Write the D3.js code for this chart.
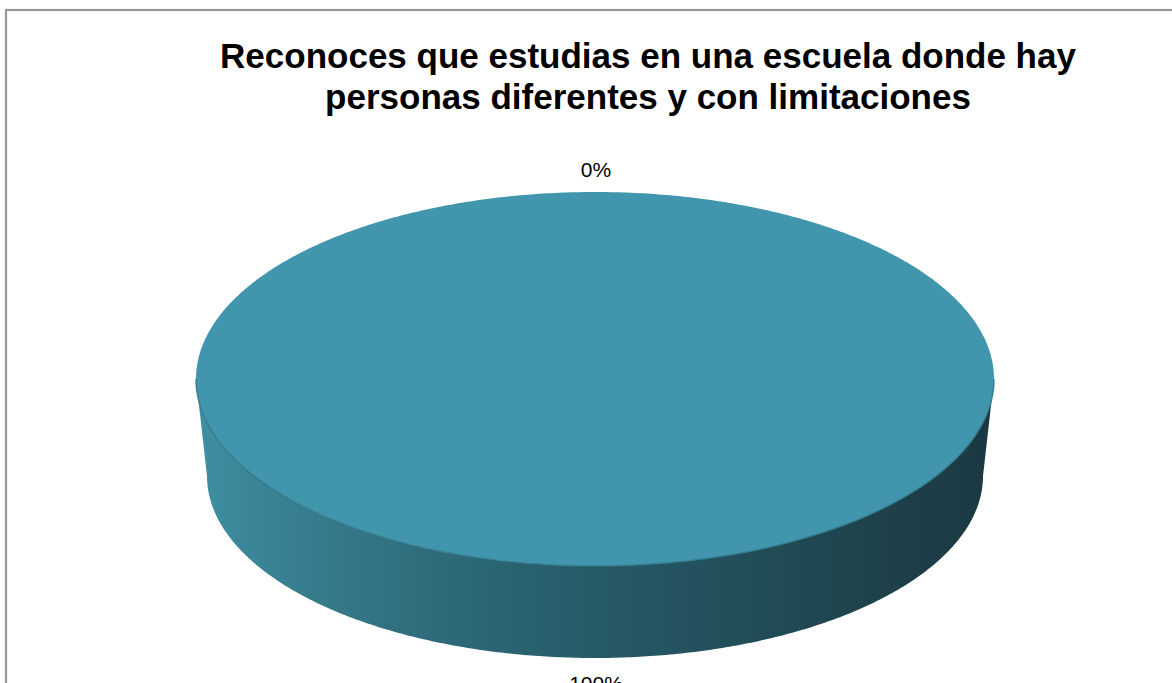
<!DOCTYPE html>
<html>
<head>
<meta charset="utf-8">
<script src="https://cdn.jsdelivr.net/npm/d3@7"></script>
<style>
  html, body { margin: 0; padding: 0; background: #fff; }
  svg { display: block; }
</style>
</head>
<body>
<svg id="chart" width="1172" height="683"></svg>
<script>
// Survey answers and their shares (percent)
const categories = ["Sí", "No"];
const values = [100, 0];
const labels = ["100%", "0%"];
const titleLines = [
  "Reconoces que estudias en una escuela donde hay",
  "personas diferentes y con limitaciones"
];

const svg = d3.select("#chart");

// Chart frame
svg.append("rect")
  .attr("x", 6).attr("y", 10)
  .attr("width", 1300).attr("height", 800)
  .attr("fill", "#fff")
  .attr("stroke", "#979797")
  .attr("stroke-width", 2.2);

// Title
const title = svg.append("text")
  .attr("text-anchor", "middle")
  .attr("font-family", "'Liberation Sans', Arial, sans-serif")
  .attr("font-weight", "bold")
  .attr("font-size", 35)
  .attr("fill", "#000");
titleLines.forEach((t, i) => {
  title.append("tspan").attr("x", 648).attr("y", 68 + i * 41).text(t);
});

// 3D pie geometry: top ellipse and a slightly smaller, lower base ellipse (perspective)
const topE = { cx: 595, cy: 379, rx: 399, ry: 187 };
const baseE = { cx: 595, cy: 476, rx: 388, ry: 182 };

// Angle a is measured clockwise from 12 o'clock, as d3.pie produces it
const pt = (e, a) => [e.cx + e.rx * Math.sin(a), e.cy - e.ry * Math.cos(a)];

function arcPoints(e, a0, a1) {
  const n = Math.max(2, Math.ceil(Math.abs(a1 - a0) / 0.01));
  return d3.range(n + 1).map(i => pt(e, a0 + (a1 - a0) * i / n));
}

const pie = d3.pie().sort(null).value(d => d)
  .startAngle(0).endAngle(2 * Math.PI);
const arcs = pie(values);

const topColors = ["#4196ad", "#c0504d"];

// Horizontal shading of the side wall
const defs = svg.append("defs");
const grad = defs.append("linearGradient")
  .attr("id", "wall")
  .attr("gradientUnits", "userSpaceOnUse")
  .attr("x1", topE.cx - topE.rx).attr("y1", 0)
  .attr("x2", topE.cx + topE.rx).attr("y2", 0);
[[0, "#3f8fa2"], [0.12, "#377f91"], [0.3, "#2e6b7a"], [0.5, "#265a67"],
 [0.7, "#214d58"], [0.85, "#1e424c"], [1, "#1b3842"]].forEach(([o, c]) =>
  grad.append("stop").attr("offset", o).attr("stop-color", c));

const line = d3.line();
const g = svg.append("g");

// Side walls: only the front half (angles between 90° and 270°) faces the viewer
arcs.forEach((d, i) => {
  const a0 = Math.max(d.startAngle, Math.PI / 2);
  const a1 = Math.min(d.endAngle, 3 * Math.PI / 2);
  if (a1 <= a0) return;
  const pts = arcPoints(topE, a0, a1).concat(arcPoints(baseE, a1, a0));
  g.append("path")
    .attr("d", line(pts) + "Z")
    .attr("fill", i === 0 ? "url(#wall)" : "#7a2f2d");
});

// Top faces
arcs.forEach((d, i) => {
  if (d.endAngle - d.startAngle <= 0) return;
  let pts = arcPoints(topE, d.startAngle, d.endAngle);
  if (d.endAngle - d.startAngle < 2 * Math.PI - 1e-9) pts = [[topE.cx, topE.cy]].concat(pts);
  g.append("path")
    .attr("d", line(pts) + "Z")
    .attr("fill", topColors[i]);
});

// Thin darker rim where the top face meets the wall
g.append("path")
  .attr("d", line(arcPoints(topE, Math.PI / 2, 3 * Math.PI / 2)))
  .attr("fill", "none")
  .attr("stroke", "#2f7587")
  .attr("stroke-width", 1.5)
  .attr("opacity", 0.8);

// Data labels placed just outside the slice at its mid angle
const off = 23;
arcs.forEach((d, i) => {
  const m = (d.startAngle + d.endAngle) / 2;
  const front = Math.cos(m) < 0;
  const e = front ? baseE : topE;
  const x = e.cx + (e.rx + off) * Math.sin(m);
  const y = e.cy - (e.ry + off) * Math.cos(m) + (front ? 2 : 0);
  svg.append("text")
    .attr("x", x + 1).attr("y", y)
    .attr("text-anchor", "middle")
    .attr("dominant-baseline", "central")
    .attr("font-family", "'Liberation Sans', Arial, sans-serif")
    .attr("font-size", 21)
    .attr("fill", "#000")
    .text(labels[i]);
});
</script>
</body>
</html>
